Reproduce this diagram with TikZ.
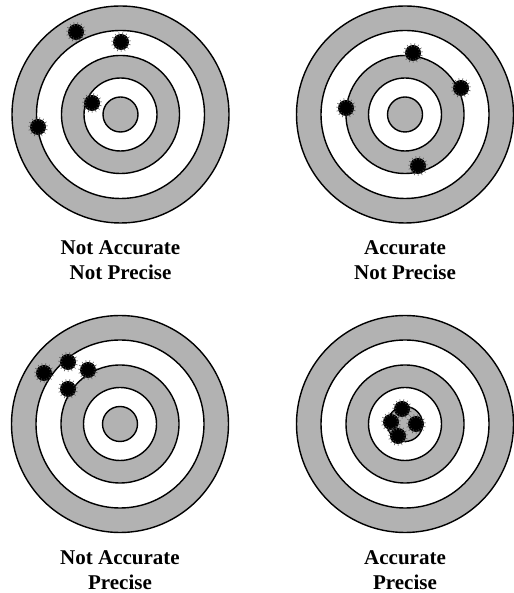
\documentclass[tikz,border=0pt]{standalone}
\usepackage{fontspec}
\setmainfont{Liberation Serif}

\begin{document}
\begin{tikzpicture}[x=10pt,y=10pt,line width=1.4pt]
\useasboundingbox (0,0) rectangle (51.3,59.3);
\tikzset{
  ring/.style={draw=black,line width=1.4pt},
  caption/.style={align=center,font=\bfseries\fontsize{21}{25}\selectfont}
}
% 靶子：五个同心圆，灰白相间
\newcommand{\target}{
  \foreach \r/\c in {10.85/black!30,8.4/white,5.9/black!30,3.65/white,1.75/black!30}{
    \filldraw[ring,fill=\c] (0,0) circle (\r);
  }
}
% 弹孔，#1 = 位置
\newcommand{\hole}[1]{
  \fill (#1) circle (0.8);
  \foreach \a in {0,24,...,336}{
    \draw[black!70,line width=0.5pt] (#1) ++(\a+7:0.6) -- ++(\a+7:0.4);
  }
}
% ---------- (a) 不准确、不精确 ----------
\begin{scope}[shift={(12.05,47.85)}]
\target
\foreach \x/\y in {-4.45/8.25,0.05/7.25,-2.85/1.15,-8.25/-1.25}{\hole{\x,\y}}
\node[caption] (tl) at (0,-14.6) {Not Accurate\\Not Precise};
\end{scope}
% ---------- (b) 准确、不精确 ----------
\begin{scope}[shift={(40.5,47.85)}]
\target
\foreach \x/\y in {0.8/6.15,5.6/2.65,-5.9/0.65,1.3/-5.15}{\hole{\x,\y}}
\node[caption] (tr) at (0,-14.6) {Accurate\\Not Precise};
\end{scope}
% ---------- (c) 不准确、精确 ----------
\begin{scope}[shift={(12.0,16.9)}]
\target
\foreach \x/\y in {-7.6/5.1,-5.2/6.2,-3.2/5.4,-5.2/3.5}{\hole{\x,\y}}
\node[caption] (bl) at (0,-14.6) {Not Accurate\\Precise};
\end{scope}
% ---------- (d) 准确、精确 ----------
\begin{scope}[shift={(40.5,16.9)}]
\target
\foreach \x/\y in {-0.3/1.5,-1.4/0.2,1.1/0.0,-0.7/-1.2}{\hole{\x,\y}}
\node[caption] (br) at (0,-14.6) {Accurate\\Precise};
\end{scope}
\end{tikzpicture}
\end{document}
